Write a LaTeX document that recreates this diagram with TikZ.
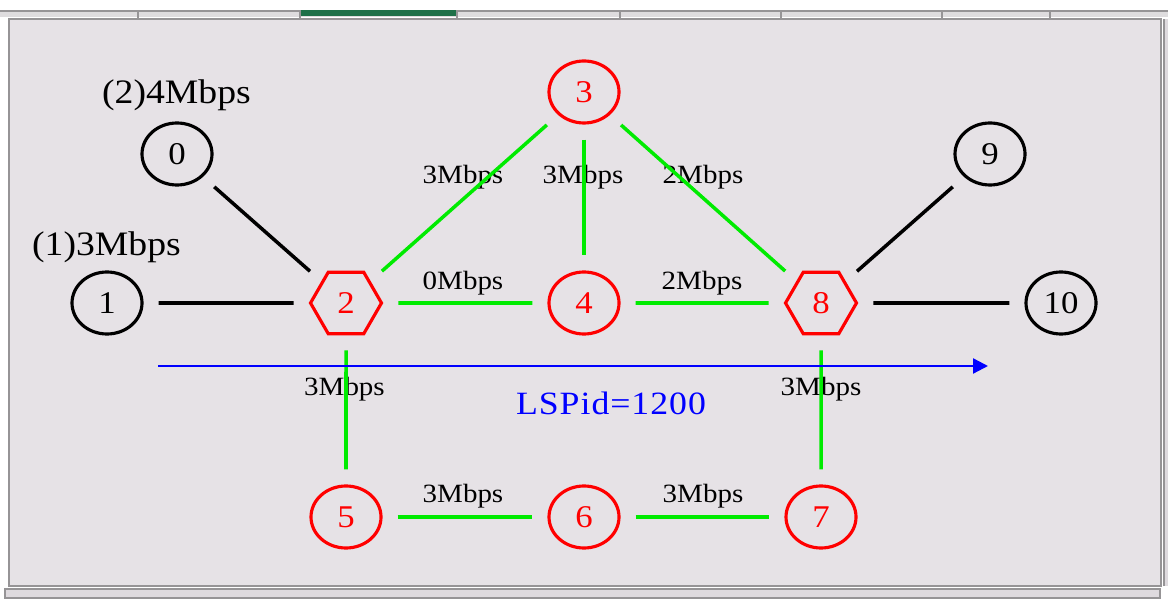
\documentclass[tikz,border=0pt]{standalone}
\usepackage{fontspec}
\setmainfont[FakeStretch=1.1]{Liberation Serif}
\usetikzlibrary{shapes.geometric,arrows.meta}
\definecolor{panelbg}{RGB}{230,226,230}
\definecolor{framegray}{RGB}{150,148,150}
\definecolor{tabgray}{RGB}{222,220,222}
\definecolor{tabgreen}{RGB}{30,112,72}
\definecolor{scrollbg}{RGB}{222,218,222}
\definecolor{linkgreen}{RGB}{0,235,0}
\begin{document}
\begin{tikzpicture}[line width=0.6pt,
    host/.style={ellipse, draw, line width=1.8pt, minimum width=1.4cm, minimum height=1.24cm,
      inner sep=0pt, font=\fontsize{18}{21}\selectfont},
    lsr/.style={host, draw=red, text=red},
    edgelsr/.style={lsr, regular polygon, regular polygon sides=6, minimum size=1.42cm},
    rate/.style={inner sep=0pt, font=\fontsize{15}{18}\selectfont},
    queue/.style={inner sep=0pt, font=\fontsize{19.5}{22}\selectfont},
    wire/.style={line width=2pt, shorten <=0.3cm, shorten >=0.3cm},
    link/.style={wire, draw=linkgreen},
    lsp/.style={blue, line width=1.3pt, -{Triangle[length=0.3cm, width=0.3cm]}}]
  \useasboundingbox (0,0) rectangle (23.36,11.98);
  % window frame
  \fill[white] (0,0) rectangle (23.36,11.98);
  \fill[tabgray] (0,11.64) rectangle (23.36,11.76);
  \draw[framegray] (0,11.76) -- (23.36,11.76);
  \fill[tabgreen] (6.00,11.66) rectangle (9.14,11.78);
  \foreach \x in {2.76,6.00,9.14,12.40,15.62,18.84,21.00}
    \draw[framegray] (\x,11.62) -- (\x,11.78);
  \fill[panelbg] (0.20,0.26) rectangle (23.20,11.58);
  \draw[framegray, line width=1.2pt] (0.18,0.26) rectangle (23.22,11.60);
  \fill[scrollbg] (0.10,0) rectangle (23.20,0.22);
  \draw[framegray] (0.10,0.02) rectangle (23.20,0.20);
  \fill[scrollbg] (23.26,0.26) rectangle (23.36,11.60);
  \draw[framegray] (23.28,0.26) -- (23.28,11.60);

  % nodes
  \node[host] (n0) at (3.540,8.900) {0};
  \node[host] (n1) at (2.140,5.920) {1};
  \node[edgelsr] (n2) at (6.920,5.920) {2};
  \node[lsr] (n3) at (11.680,10.140) {3};
  \node[lsr] (n4) at (11.680,5.920) {4};
  \node[lsr] (n5) at (6.920,1.640) {5};
  \node[lsr] (n6) at (11.680,1.640) {6};
  \node[lsr] (n7) at (16.420,1.640) {7};
  \node[edgelsr] (n8) at (16.420,5.920) {8};
  \node[host] (n9) at (19.800,8.900) {9};
  \node[host] (n10) at (21.220,5.920) {10};

  % queue and link labels
  \node[queue] (q0) at (3.530,10.080) {(2)4Mbps};
  \node[queue] (q1) at (2.130,7.040) {(1)3Mbps};
  \node[rate] (r32) at (9.260,8.440) {3Mbps};
  \node[rate] (r34) at (11.660,8.440) {3Mbps};
  \node[rate] (r38) at (14.060,8.440) {2Mbps};
  \node[rate] (r24) at (9.260,6.320) {0Mbps};
  \node[rate] (r48) at (14.040,6.320) {2Mbps};
  \node[rate] (r25) at (6.890,4.200) {3Mbps};
  \node[rate] (r87) at (16.420,4.200) {3Mbps};
  \node[rate] (r56) at (9.260,2.060) {3Mbps};
  \node[rate] (r67) at (14.060,2.060) {3Mbps};

  % links
  \draw[wire] (n0) -- (n2);
  \draw[wire] (n1) -- (n2);
  \draw[wire] (n8) -- (n9);
  \draw[wire] (n8) -- (n10);
  \draw[link] (n2) -- (n3);
  \draw[link] (n3) -- (n4);
  \draw[link] (n3) -- (n8);
  \draw[link] (n2) -- (n4);
  \draw[link] (n4) -- (n8);
  \draw[link] (n2) -- (n5);
  \draw[link] (n5) -- (n6);
  \draw[link] (n6) -- (n7);
  \draw[link] (n8) -- (n7);

  % label switched path
  \coordinate (lspA) at (3.160,4.660);
  \coordinate (lspB) at (19.760,4.660);
  \draw[lsp] (lspA) -- (lspB);
  \node[inner sep=0pt, blue, font=\fontsize{18.5}{21}\selectfont\addfontfeatures{LetterSpace=3}]
    (lspid) at (12.220,3.920) {LSPid=1200};
\end{tikzpicture}
\end{document}
